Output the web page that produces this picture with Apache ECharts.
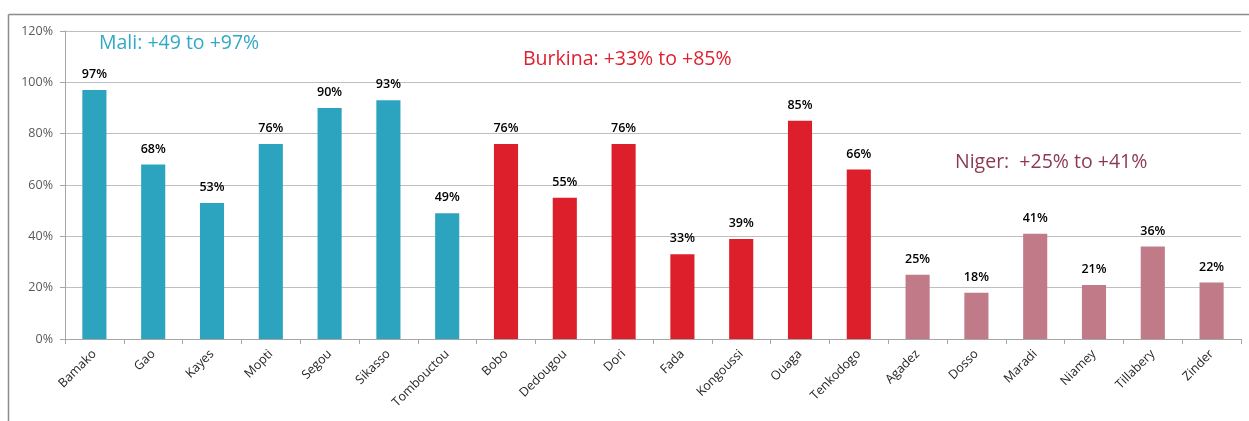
<!DOCTYPE html>
<html>
<head>
<meta charset="utf-8">
<script src="https://cdn.jsdelivr.net/npm/echarts@6/dist/echarts.min.js"></script>
<style>
html,body{margin:0;padding:0;background:#fff;}
#chart{width:1249px;height:421px;}
</style>
</head>
<body>
<div id="chart"></div>
<script>
const categories = ['Bamako','Gao','Kayes','Mopti','Segou','Sikasso','Tombouctou','Bobo','Dedougou','Dori','Fada','Kongoussi','Ouaga','Tenkodogo','Agadez','Dosso','Maradi','Niamey','Tillabery','Zinder'];
const values = [97,68,53,76,90,93,49,76,55,76,33,39,85,66,25,18,41,21,36,22];
const countries = ['Mali','Mali','Mali','Mali','Mali','Mali','Mali','Burkina','Burkina','Burkina','Burkina','Burkina','Burkina','Burkina','Niger','Niger','Niger','Niger','Niger','Niger'];
const yTicks = [0,20,40,60,80,100,120];
const notes = ['Mali: +49 to +97%','Burkina: +33% to +85%','Niger:  +25% to +41%'];

const barColors = {Mali:'#2ca3bf', Burkina:'#dc1f2b', Niger:'#c17a88'};
const noteColors = ['#33a8c6','#e0202e','#8c3a52'];
const font = 'Open Sans, Noto Sans, sans-serif';

const chart = echarts.init(document.getElementById('chart'));
chart.setOption({
  animation:false,
  backgroundColor:'#fff',
  grid:{left:65,right:8,top:31,bottom:82,containLabel:false},
  xAxis:{
    type:'category',
    data:categories,
    axisLine:{lineStyle:{color:'#a6a6a6',width:1}},
    axisTick:{show:true,alignWithLabel:false,length:5,lineStyle:{color:'#a6a6a6'}},
    axisLabel:{rotate:45,interval:0,color:'#262626',fontSize:12.5,fontFamily:font,margin:13}
  },
  yAxis:{
    type:'value',
    min:yTicks[0],max:yTicks[yTicks.length-1],interval:20,
    axisLine:{show:true,lineStyle:{color:'#a6a6a6'}},
    axisTick:{show:true,length:5,lineStyle:{color:'#a6a6a6'}},
    splitLine:{lineStyle:{color:'#bfbfbf',width:1}},
    axisLabel:{formatter:'{value}%',color:'#595959',fontSize:12.5,fontFamily:font,margin:12}
  },
  series:[{
    type:'bar',
    barWidth:'41%',
    data:values.map((v,i)=>({value:v,itemStyle:{color:barColors[countries[i]]}})),
    label:{show:true,position:'top',distance:9,formatter:'{c}%',color:'#000',fontSize:12.5,fontWeight:600,fontFamily:font}
  }],
  graphic:[
    {type:'line',shape:{x1:8.5,y1:14.5,x2:1249,y2:14.5},style:{stroke:'#8c8c8c',lineWidth:1.5}},
    {type:'line',shape:{x1:8.5,y1:14.5,x2:8.5,y2:421},style:{stroke:'#8c8c8c',lineWidth:1.5}},
    {type:'text',left:99,top:33,style:{text:notes[0],fill:noteColors[0],font:'500 19.5px Open Sans, sans-serif'}},
    {type:'text',left:523,top:49,style:{text:notes[1],fill:noteColors[1],font:'500 19.5px Open Sans, sans-serif'}},
    {type:'text',left:955,top:152,style:{text:notes[2],fill:noteColors[2],font:'500 19.5px Open Sans, sans-serif'}}
  ]
});
</script>
</body>
</html>
